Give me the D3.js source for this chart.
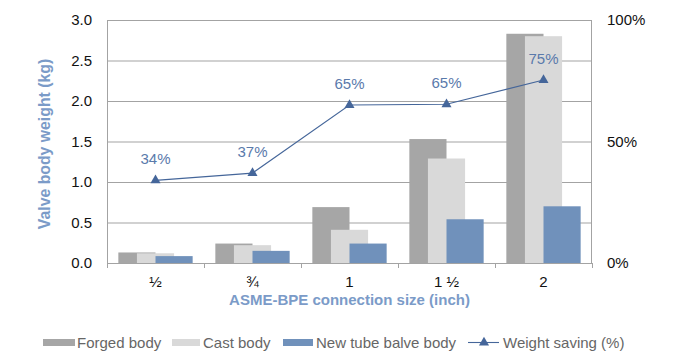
<!DOCTYPE html>
<html><head><meta charset="utf-8">
<script src="https://cdn.jsdelivr.net/npm/d3@7"></script>
<style>body{margin:0;background:#fff} text{font-family:"Liberation Sans",Arial,Helvetica,sans-serif}</style>
</head><body><svg id="c" width="684" height="351"></svg>
<script>
const categories = ["½","¾","1","1 ½","2"];
const forged = [0.13,0.24,0.69,1.53,2.83];
const cast = [0.12,0.22,0.41,1.29,2.80];
const tube = [0.085,0.15,0.24,0.54,0.70];
const saving = [34,37,65,65.3,75.3];
const savingLabels = ["34%","37%","65%","65%","75%"];
const yTicks = [0,0.5,1,1.5,2,2.5,3];
const y2Ticks = [0,50,100];
const seriesNames = ["Forged body","Cast body","New tube balve body"];
const lineName = "Weight saving (%)";

const colors = ["#a6a6a6","#d9d9d9","#7091bb"];
const lineColor = "#45669a";
const labelColor = "#5a7aab";
const titleColor = "#7b9bc8";

const svg = d3.select("#c");
const L=107, R=592, T=20, B=263;
const x = d3.scaleBand().domain(categories).range([L,R]);
const y = d3.scaleLinear().domain([0,3]).range([B,T]);
const y2 = d3.scaleLinear().domain([0,100]).range([B,T]);

// gridlines
const gAxL = svg.append("g").attr("transform",`translate(${L},0)`)
  .call(d3.axisLeft(y).tickValues(yTicks).tickSize(-(R-L)).tickFormat(d3.format(".1f")).tickPadding(15));
gAxL.select(".domain").remove();
gAxL.selectAll(".tick line").attr("stroke","#a3a3a3").attr("stroke-width",1);
gAxL.selectAll(".tick text").attr("fill","#111").style("font-size","15px");

// right axis labels
const gAxR = svg.append("g").attr("transform",`translate(${R},0)`)
  .call(d3.axisRight(y2).tickValues(y2Ticks).tickSize(0).tickFormat(d=>d+"%").tickPadding(15));
gAxR.select(".domain").remove();
gAxR.selectAll(".tick text").attr("fill","#111").style("font-size","15px");

// bars
const series = [forged, cast, tube];
series.forEach((vals,si)=>{
  svg.append("g").selectAll("rect").data(vals).enter().append("rect")
    .attr("x",(d,i)=>{const bw=x.bandwidth()*0.383; return x(categories[i])+x.bandwidth()/2-bw+si*bw/2;})
    .attr("width",x.bandwidth()*0.383)
    .attr("y",d=>y(d)).attr("height",d=>B-y(d))
    .attr("fill",colors[si]);
});

// frame
svg.append("line").attr("x1",L+0.5).attr("x2",L+0.5).attr("y1",T).attr("y2",B).attr("stroke","#a3a3a3");
svg.append("line").attr("x1",R-0.5).attr("x2",R-0.5).attr("y1",T).attr("y2",B).attr("stroke","#a3a3a3");

// bottom axis
const gAxB = svg.append("g").attr("transform",`translate(0,${B})`)
  .call(d3.axisBottom(x).tickSize(0).tickPadding(13));
gAxB.select(".domain").attr("stroke","#a3a3a3");
gAxB.selectAll(".tick text").attr("fill","#111").style("font-size","15px");
const bounds = categories.map(c=>x(c)).concat([R]);
svg.append("g").selectAll("line").data(bounds).enter().append("line")
  .attr("x1",d=>Math.round(d)+0.5).attr("x2",d=>Math.round(d)+0.5)
  .attr("y1",B).attr("y2",B+5).attr("stroke","#a3a3a3");

// line series
const cx = c=>x(c)+x.bandwidth()/2;
svg.append("path").datum(saving)
  .attr("d",d3.line().x((d,i)=>cx(categories[i])).y(d=>y2(d)))
  .attr("fill","none").attr("stroke",lineColor).attr("stroke-width",1.1);
svg.append("g").selectAll("path").data(saving).enter().append("path")
  .attr("d",d3.symbol(d3.symbolTriangle,44))
  .attr("transform",(d,i)=>`translate(${cx(categories[i])},${y2(d)})`)
  .attr("fill",lineColor);
svg.append("g").selectAll("text").data(saving).enter().append("text")
  .attr("x",(d,i)=>cx(categories[i])).attr("y",d=>y2(d)-16)
  .attr("text-anchor","middle").attr("fill",labelColor).style("font-size","15px")
  .text((d,i)=>savingLabels[i]);

// axis titles
svg.append("text").attr("x",(L+R)/2).attr("y",305).attr("text-anchor","middle")
  .attr("fill",titleColor).style("font-size","15px").style("font-weight","bold")
  .text("ASME-BPE connection size (inch)");
svg.append("text").attr("transform",`translate(50,144) rotate(-90)`).attr("text-anchor","middle")
  .attr("fill",titleColor).style("font-size","15.8px").style("font-weight","bold")
  .text("Valve body weight (kg)");

// legend
const leg = svg.append("g");
const sw = [[43,32,77],[172,28,203],[283,30,316]];
seriesNames.forEach((n,i)=>{
  leg.append("rect").attr("x",sw[i][0]).attr("y",339).attr("width",sw[i][1]).attr("height",7).attr("fill",colors[i]);
  leg.append("text").attr("x",sw[i][2]).attr("y",348).attr("fill","#666").style("font-size","15px").text(n);
});
leg.append("line").attr("x1",468).attr("x2",499).attr("y1",342.5).attr("y2",342.5).attr("stroke",lineColor).attr("stroke-width",1.1);
leg.append("path").attr("d",d3.symbol(d3.symbolTriangle,44)).attr("transform","translate(484,342.5)").attr("fill",lineColor);
leg.append("text").attr("x",503).attr("y",348).attr("fill","#666").style("font-size","15px").text(lineName);
</script></body></html>
